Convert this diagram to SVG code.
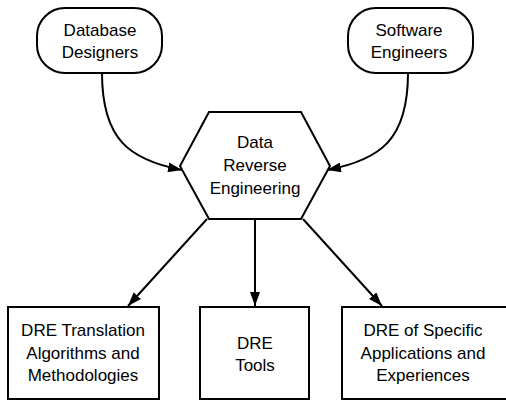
<svg xmlns="http://www.w3.org/2000/svg" width="506" height="400" viewBox="0 0 506 400">
<defs>
<style>
.shape{fill:#fff;stroke:#000;stroke-width:2}
.conn{fill:none;stroke:#000;stroke-width:2}
text{font-family:"Liberation Sans",Arial,sans-serif;font-size:17px;fill:#000;text-anchor:middle}
</style>
<marker id="arr" viewBox="0 0 14 10" refX="14" refY="5" markerWidth="14" markerHeight="10" markerUnits="userSpaceOnUse" orient="auto">
<path d="M0,0 L14,5 L0,10 Z" fill="#000"/>
</marker>
</defs>
<rect width="506" height="400" fill="#fff"/>
<g id="db-designers">
<rect class="shape" x="37" y="8" width="125" height="65" rx="28" ry="28"/>
<text x="100" y="36">Database</text>
<text x="100" y="58">Designers</text>
</g>
<g id="sw-engineers">
<rect class="shape" x="348" y="8" width="125" height="65" rx="28" ry="28"/>
<text x="409" y="36">Software</text>
<text x="409" y="58">Engineers</text>
</g>
<g id="dre">
<polygon class="shape" points="209,112 301,112 330,166 301,219 209,219 180,166"/>
<text x="255" y="148">Data</text>
<text x="255" y="171">Reverse</text>
<text x="255" y="194">Engineering</text>
</g>
<g id="translation">
<rect class="shape" x="8" y="307" width="151" height="92"/>
<text x="83" y="336">DRE Translation</text>
<text x="83" y="358.5">Algorithms and</text>
<text x="83" y="381">Methodologies</text>
</g>
<g id="tools">
<rect class="shape" x="200" y="307" width="109" height="92"/>
<text x="255" y="349">DRE</text>
<text x="255" y="371">Tools</text>
</g>
<g id="specific">
<rect class="shape" x="342" y="307" width="166" height="92"/>
<text x="423" y="336">DRE of Specific</text>
<text x="423" y="358.5">Applications and</text>
<text x="423" y="381">Experiences</text>
</g>
<g id="connectors">
<path class="conn" d="M102,73 C102,140 130,160 182,170" marker-end="url(#arr)"/>
<path class="conn" d="M408,73 C408,140 380,160 327,170" marker-end="url(#arr)"/>
<path class="conn" d="M207,219 L128,306" marker-end="url(#arr)"/>
<path class="conn" d="M255,219 L255,306" marker-end="url(#arr)"/>
<path class="conn" d="M303,219 L382,306" marker-end="url(#arr)"/>
</g>
</svg>
